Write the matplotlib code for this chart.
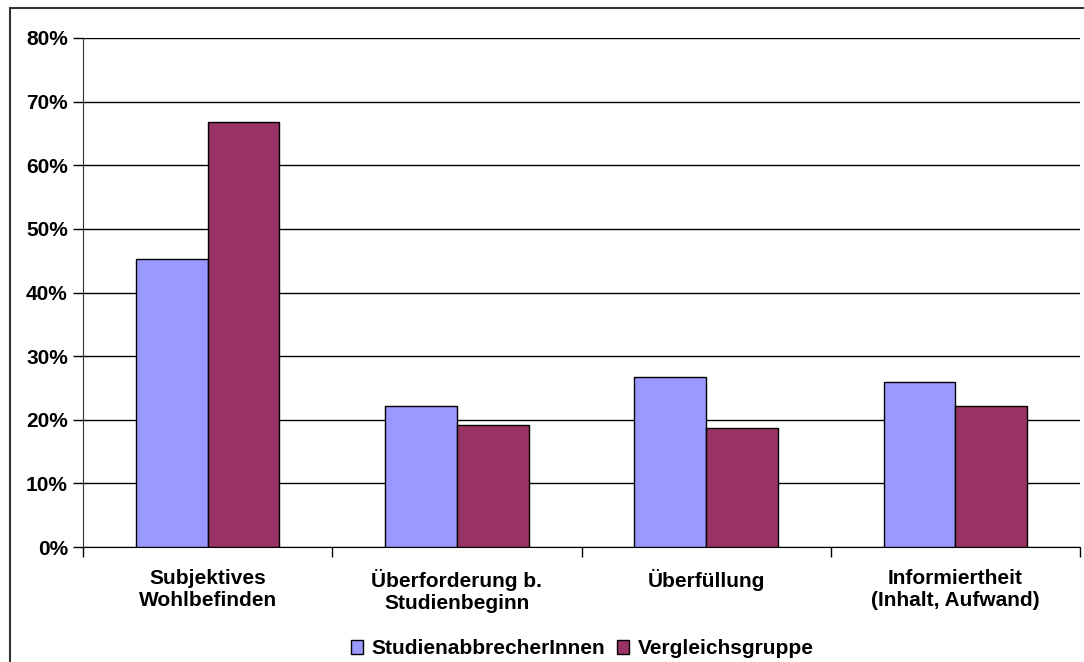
import matplotlib.pyplot as plt
import numpy as np
from matplotlib.patches import Rectangle

plt.rcParams['font.family'] = ['Liberation Sans', 'DejaVu Sans']
plt.rcParams['font.weight'] = 'bold'

categories = ['Subjektives\nWohlbefinden', 'Überforderung b.\nStudienbeginn',
              'Überfüllung', 'Informiertheit\n(Inhalt, Aufwand)']
abbrecher = [45.3, 22.2, 26.7, 25.9]
vergleich = [66.8, 19.2, 18.7, 22.2]
series_names = ['StudienabbrecherInnen', 'Vergleichsgruppe']
y_ticks = [0, 10, 20, 30, 40, 50, 60, 70, 80]

fig = plt.figure(figsize=(10.84, 6.62), dpi=100)
ax = fig.add_axes([0.0766, 0.1737, 0.9197, 0.7689])

# Rahmen um das Diagramm
fig.patches.append(Rectangle((10 / 1084, -0.1), 1.2, 1 - 8 / 662 + 0.1,
                             transform=fig.transFigure, fill=False,
                             edgecolor='#333333', linewidth=1.5))

x = np.arange(len(categories))
w = 0.2875
ax.bar(x - w / 2, abbrecher, w, color='#9999FF', edgecolor='black',
       linewidth=1, label=series_names[0], zorder=3)
ax.bar(x + w / 2, vergleich, w, color='#993366', edgecolor='black',
       linewidth=1, label=series_names[1], zorder=3)

ax.set_xlim(-0.5, len(categories) - 0.5)
ax.set_ylim(0, 80)
ax.set_yticks(y_ticks)
ax.set_yticklabels([f'{v}%' for v in y_ticks], fontsize=15, fontweight='bold')
ax.yaxis.grid(True, color='black', linewidth=1)
ax.set_axisbelow(True)
ax.tick_params(axis='y', length=7, width=1, pad=4, colors='black')

ax.set_xticks(x)
ax.set_xticklabels(categories, fontsize=15, fontweight='bold', linespacing=1.2)
ax.set_xticks(np.arange(-0.5, len(categories)), minor=True)
ax.tick_params(axis='x', which='major', length=0, pad=16)
ax.tick_params(axis='x', which='minor', length=7, width=1)

for s in ['top', 'right']:
    ax.spines[s].set_visible(False)
ax.spines['left'].set_color('#333333')
ax.spines['bottom'].set_color('black')

leg = fig.legend(loc='center', bbox_to_anchor=(0.537, 0.02), ncol=2,
                 frameon=False, fontsize=15, handlelength=0.6,
                 handleheight=0.6, handletextpad=0.4, columnspacing=0.55)
for t in leg.get_texts():
    t.set_fontweight('bold')

fig.savefig('out.png', dpi=100)
